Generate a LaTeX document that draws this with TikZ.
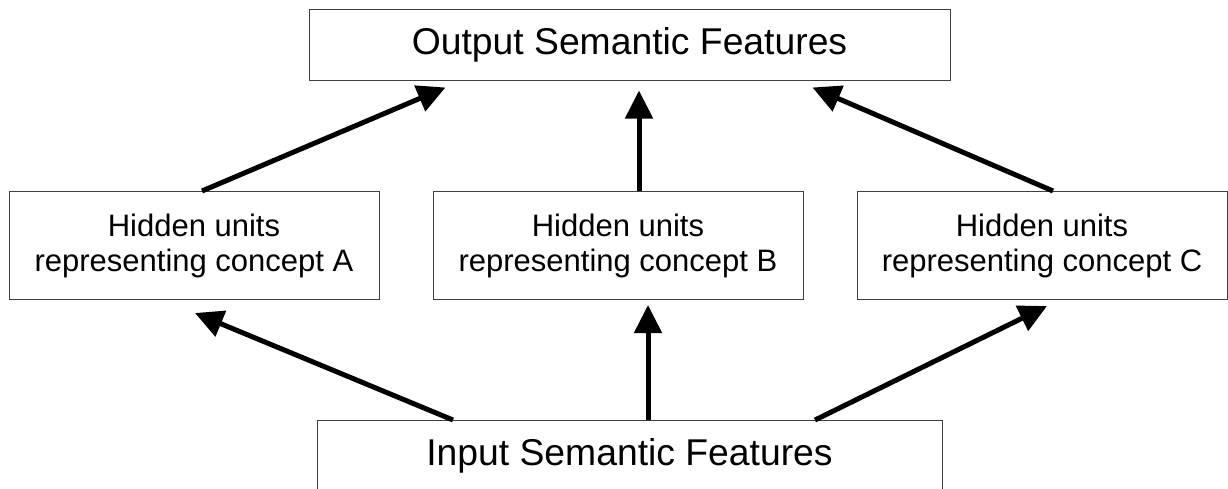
\documentclass[tikz,border=0pt]{standalone}
\usepackage{fontspec}
\setmainfont{Liberation Sans}
\usetikzlibrary{arrows.meta}
\tikzset{
  box/.style={draw=black!75, line width=1pt, rectangle, inner sep=0pt},
  hidden/.style={box, minimum width=370pt, minimum height=108pt, align=center, font=\fontsize{31}{35}\selectfont},
  arr/.style={line width=5pt, -{Triangle[length=28pt,width=27pt]}}
}
\begin{document}
\begin{tikzpicture}[x=1pt, y=-1pt]
			\useasboundingbox (0,0) rectangle (1228,488);
			
			\node[box, minimum width=641pt, minimum height=71pt, font=\fontsize{37.3}{40}\selectfont] (out) at (629.5, 44.5){Output Semantic Features};
			
			\node[hidden] (A) at (194, 245.5){Hidden units\\representing concept A};
			\node[hidden] (B) at (618, 245.5){Hidden units\\representing concept B};
			\node[hidden] (C) at (1042, 245.5){Hidden units\\representing concept C};
			
			\node[box, anchor=north, minimum width=625pt, text height=27pt, text depth=60pt, inner ysep=18pt, font=\fontsize{37.3}{40}\selectfont] (in) at (629.5, 420){Input Semantic Features};
			
			\draw[arr] ([xshift=8pt]A.north) -- ([xshift=137pt, yshift=-7pt]out.south west);
			\draw[arr] ([xshift=21pt]B.north) -- ([xshift=9.5pt, yshift=-10pt]out.south);
			\draw[arr] ([xshift=11pt]C.north) -- ([xshift=-138pt, yshift=-7pt]out.south east);
			
			\draw[arr] ([xshift=-176.5pt]in.north) -- ([xshift=1pt, yshift=-13pt]A.south);
			\draw[arr] ([xshift=18.5pt]in.north) -- ([xshift=30pt, yshift=-5pt]B.south);
			\draw[arr] ([xshift=185.5pt]in.north) -- ([xshift=5pt, yshift=-6pt]C.south);
		\end{tikzpicture}
\end{document}
